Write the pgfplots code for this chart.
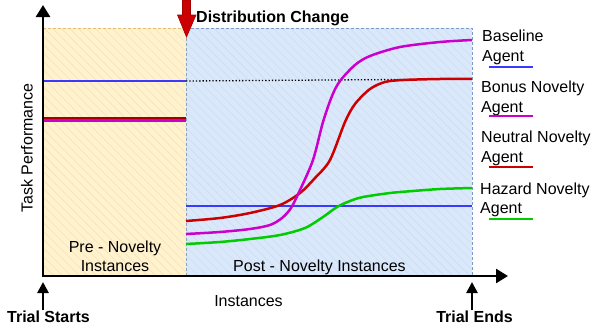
\documentclass[border=0pt]{standalone}
\usepackage{pgfplots}
\pgfplotsset{compat=1.18}
\usepackage{fontspec}
\setmainfont{Liberation Sans}
\usetikzlibrary{arrows.meta,patterns.meta}
\definecolor{preFill}{HTML}{FFF2CC}
\definecolor{preDraw}{HTML}{E0C070}
\definecolor{postFill}{HTML}{DAE8FC}
\definecolor{postDraw}{HTML}{7D9AC8}
\definecolor{cBlue}{HTML}{3A3AFF}
\definecolor{cMag}{HTML}{CC00CC}
\definecolor{cRed}{HTML}{CC0000}
\definecolor{cGreen}{HTML}{00CC00}
\definecolor{dRed}{HTML}{A00000}
\begin{document}
\begin{tikzpicture}[font=\fontsize{16}{20}\selectfont]
\begin{axis}[
  scale only axis, width=594pt, height=332pt,
  xmin=0, xmax=594, ymin=0, ymax=332, y dir=reverse,
  axis lines=none, clip=false,
]
\coordinate (bbA) at (axis cs:0,0);
\coordinate (bbB) at (axis cs:594,332);
% regions
\addplot[draw=none, fill=preFill] coordinates {(43,28)(186,28)(186,276)(43,276)} \closedcycle;
\addplot[draw=none, pattern={Lines[angle=-45,distance=6pt,line width=0.6pt]}, pattern color=preDraw!45] coordinates {(43,28)(186,28)(186,276)(43,276)} \closedcycle;
\addplot[draw=none, fill=postFill] coordinates {(186,28)(472,28)(472,276)(186,276)} \closedcycle;
\addplot[draw=none, pattern={Lines[angle=-45,distance=6pt,line width=0.6pt]}, pattern color=postDraw!35] coordinates {(186,28)(472,28)(472,276)(186,276)} \closedcycle;
\addplot[preDraw, densely dashed, line width=0.7pt] coordinates {(43,28)(186,28)};
\addplot[postDraw, densely dashed, line width=0.7pt] coordinates {(186,28)(472,28)(472,276)};
\addplot[postDraw!80!preDraw, densely dashed, line width=0.7pt] coordinates {(186,28)(186,276)};
% pre-novelty lines
\addplot[cGreen, line width=2.5pt] coordinates {(43,119)(186,119)};
\addplot[cBlue, line width=2.5pt] coordinates {(43,81)(186,81)};
\addplot[cRed!80!black, line width=2.5pt] coordinates {(43,118)(186,118)};
\addplot[cMag, line width=2.5pt] coordinates {(43,120.5)(186,120.5)};
% dotted continuation
\addplot[black, dotted, line width=1.3pt] coordinates {(186,81)(472,79)};
% post-novelty curves
\addplot[cBlue, line width=2.5pt] coordinates {(186,206)(472,206)};
\addplot[cGreen, line width=2.5pt, smooth, tension=0.5] coordinates {(186,244)(220,242)(250,239)(280,235)(305,228)(323,217)(337,207)(350,201)(363,197)(390,193)(413,191)(440,189)(472,188)};
\addplot[cRed, line width=2.5pt, smooth, tension=0.5] coordinates {(186,221)(220,218)(250,213)(280,205)(300,193)(315,178)(330,160)(345,122)(355,104)(370,89)(385,82)(403,80)(440,79)(472,79)};
\addplot[cMag, line width=2.5pt, smooth, tension=0.5] coordinates {(186,234)(220,232)(250,229)(270,225)(282,218)(291,208)(300,190)(313,160)(323,122)(332,96)(340,81)(355,65)(370,56)(400,47)(440,42)(472,40)};
% axes
\addplot[black, line width=2.6pt, -{Triangle[length=12pt,width=14pt]}] coordinates {(43,277)(43,5)};
\addplot[black, line width=2.6pt, -{Triangle[length=12pt,width=14pt]}] coordinates {(42,276)(508,276)};
% distribution change arrow
\addplot[fill=cRed, draw=dRed, line width=0.6pt] coordinates {(182.5,0)(190.5,0)(190.5,15)(196,15)(186.5,37)(177.5,15)(182.5,15)} \closedcycle;
\node[anchor=base west, font=\fontsize{16}{20}\selectfont\bfseries, inner sep=0pt] at (axis cs:196,22) {Distribution Change};
% trial arrows
\addplot[black, line width=2.6pt, -{Triangle[length=11pt,width=11pt]}] coordinates {(43,310)(43,282)};
\addplot[black, line width=2.6pt, -{Triangle[length=11pt,width=11pt]}] coordinates {(472,310)(472,282)};
\node[anchor=base, font=\fontsize{16}{20}\selectfont\bfseries, inner sep=0pt] at (axis cs:48.5,322) {Trial Starts};
\node[anchor=base, font=\fontsize{16}{20}\selectfont\bfseries, inner sep=0pt] at (axis cs:474.5,322) {Trial Ends};
% region labels
\node[anchor=base, inner sep=0pt] at (axis cs:115,252) {Pre - Novelty};
\node[anchor=base, inner sep=0pt] at (axis cs:115,271) {Instances};
\node[anchor=base, inner sep=0pt] at (axis cs:319.5,271) {Post - Novelty Instances};
% axis labels
\node[anchor=base, inner sep=0pt] at (axis cs:248.5,306) {Instances};
\node[rotate=90, anchor=center, inner sep=0pt] at (axis cs:27,148) {Task Performance};
% legend
\node[anchor=base west, inner sep=0pt] at (axis cs:482,41) {Baseline};
\node[anchor=base west, inner sep=0pt] at (axis cs:482,61) {Agent};
\addplot[cBlue, line width=2.5pt] coordinates {(489,67)(533,67)};
\node[anchor=base west, inner sep=0pt] at (axis cs:481,92) {Bonus Novelty};
\node[anchor=base west, inner sep=0pt] at (axis cs:481,112) {Agent};
\addplot[cMag, line width=2.5pt] coordinates {(489,116)(533,116)};
\node[anchor=base west, inner sep=0pt] at (axis cs:481,142) {Neutral Novelty};
\node[anchor=base west, inner sep=0pt] at (axis cs:481,162) {Agent};
\addplot[cRed, line width=2.5pt] coordinates {(489,167)(533,167)};
\node[anchor=base west, inner sep=0pt] at (axis cs:480,194) {Hazard Novelty};
\node[anchor=base west, inner sep=0pt] at (axis cs:480,213) {Agent};
\addplot[cGreen, line width=2.5pt] coordinates {(489,219)(533,219)};
\end{axis}
\pgfresetboundingbox
\path[use as bounding box] (bbA) rectangle (bbB);
\end{tikzpicture}
\end{document}
